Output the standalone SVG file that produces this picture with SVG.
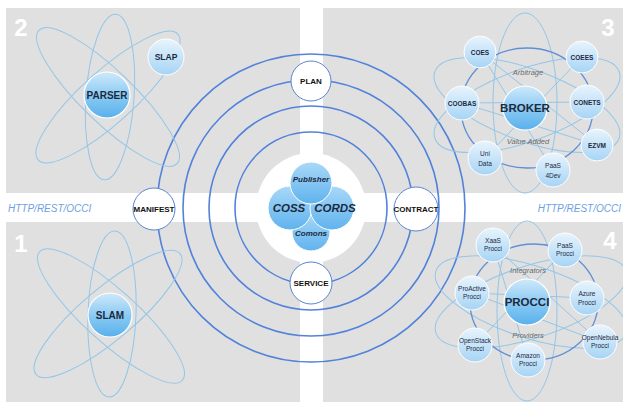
<svg xmlns="http://www.w3.org/2000/svg" width="623" height="402" viewBox="0 0 623 402">
<defs>
<linearGradient id="gBig" x1="0" y1="0" x2="0" y2="1">
<stop offset="0" stop-color="#cfe9fb"/><stop offset="0.5" stop-color="#8ccbf3"/><stop offset="1" stop-color="#58b0ec"/>
</linearGradient>
<linearGradient id="gSmall" x1="0" y1="0" x2="0" y2="1">
<stop offset="0" stop-color="#e8f4fd"/><stop offset="1" stop-color="#a6d4f5"/>
</linearGradient>
<linearGradient id="gCore" x1="0" y1="0" x2="0" y2="1">
<stop offset="0" stop-color="#a9d8f8"/><stop offset="1" stop-color="#5fb3ee"/>
</linearGradient>
<style>
.quad{fill:#e0e0e0}
.ring{fill:none;stroke:#5282da;stroke-width:1.6}
.orb{fill:none;stroke:#93c6e8;stroke-width:1}
.orbd{fill:none;stroke:#5f8fd6;stroke-width:1.3}
.big{fill:url(#gBig);stroke:#ffffff;stroke-width:1.2}
.small{fill:url(#gSmall);stroke:#ffffff;stroke-width:1}
.core{fill:url(#gCore);stroke:#ffffff;stroke-width:1}
.wnode{fill:#ffffff;stroke:#5b85d0;stroke-width:1}
text{font-family:"Liberation Sans",Arial,sans-serif;text-anchor:middle}
.t{font-weight:bold;fill:#1d2a3e}
.ts{font-size:6.5px;fill:#1d2a3e}
.tw{font-weight:bold;font-size:8px;fill:#111}
.tc{font-weight:bold;font-style:italic;fill:#1d2a3e}
.ti{font-style:italic;font-size:7.5px;fill:#6b6b6b}
.num{font-weight:bold;font-size:24px;fill:#ffffff}
.http{font-style:italic;font-size:10px;fill:#6e9fe3;text-anchor:start}
</style>
</defs>
<rect width="623" height="402" fill="#ffffff"/>
<g id="quadrants">
<rect class="quad" x="6" y="8" width="294" height="185"/>
<rect class="quad" x="323" y="8" width="300" height="185"/>
<rect class="quad" x="6" y="222" width="294" height="180"/>
<rect class="quad" x="323" y="222" width="300" height="180"/>
<circle cx="311" cy="208" r="55" fill="#ffffff"/>
</g>
<text class="num" x="21" y="36">2</text>
<text class="num" x="608" y="36">3</text>
<text class="num" x="21" y="252">1</text>
<text class="num" x="610" y="249">4</text>
<text class="http" x="8" y="212">HTTP/REST/OCCI</text>
<text class="http" x="621" y="212" style="text-anchor:end">HTTP/REST/OCCI</text>
<g id="connectors">
<circle class="ring" cx="311" cy="208" r="154"/>
<circle class="ring" cx="311" cy="208" r="128"/>
<circle class="ring" cx="311" cy="208" r="102"/>
<circle class="ring" cx="311" cy="208" r="76"/>
<!-- atom 2 -->
<ellipse class="orb" cx="108" cy="97" rx="96" ry="26" transform="rotate(44 108 97)"/>
<ellipse class="orb" cx="108" cy="97" rx="94" ry="26" transform="rotate(-42 108 97)"/>
<ellipse class="orb" cx="110" cy="97" rx="24" ry="83" transform="rotate(4 110 97)"/>
<!-- atom 1 -->
<ellipse class="orb" cx="111" cy="316" rx="96" ry="26" transform="rotate(42 111 316)"/>
<ellipse class="orb" cx="108" cy="314" rx="94" ry="26" transform="rotate(-40 108 314)"/>
<ellipse class="orb" cx="112" cy="314" rx="24" ry="83" transform="rotate(2 112 314)"/>
<!-- atom 3 -->
<ellipse class="orb" cx="525" cy="103" rx="32" ry="90"/>
<ellipse class="orb" cx="527" cy="105" rx="98" ry="36" transform="rotate(20 527 105)"/>
<ellipse class="orb" cx="527" cy="105" rx="98" ry="36" transform="rotate(-20 527 105)"/>
<line class="orb" x1="480" y1="52" x2="597" y2="145"/>
<line class="orb" x1="582" y1="57" x2="485" y2="158"/>
<line class="orb" x1="462" y1="103" x2="587" y2="102"/>
<line class="orb" x1="480" y1="52" x2="553" y2="170"/>
<line class="orb" x1="462" y1="103" x2="597" y2="145"/>
<ellipse class="orbd" cx="527" cy="108" rx="66" ry="60"/>
<!-- atom 4 -->
<ellipse class="orb" cx="527" cy="311" rx="30" ry="90"/>
<ellipse class="orb" cx="531" cy="302" rx="100" ry="36" transform="rotate(18 531 302)"/>
<ellipse class="orb" cx="531" cy="302" rx="100" ry="36" transform="rotate(-18 531 302)"/>
<line class="orb" x1="493" y1="245" x2="600" y2="342"/>
<line class="orb" x1="565" y1="250" x2="475" y2="345"/>
<line class="orb" x1="472" y1="293" x2="587" y2="298"/>
<line class="orb" x1="493" y1="245" x2="528" y2="360"/>
<line class="orb" x1="472" y1="293" x2="600" y2="342"/>
<ellipse class="orbd" cx="534" cy="302" rx="64" ry="58"/>
</g>
<g id="PLAN"><circle class="wnode" cx="311" cy="81" r="20"/><text class="tw" x="311" y="84">PLAN</text></g>
<g id="MANIFEST"><circle class="wnode" cx="154" cy="209" r="21"/><text class="tw" x="154" y="212">MANIFEST</text></g>
<g id="CONTRACT"><circle class="wnode" cx="416" cy="209" r="22"/><text class="tw" x="416" y="212">CONTRACT</text></g>
<g id="SERVICE"><circle class="wnode" cx="311" cy="283" r="21"/><text class="tw" x="311" y="286">SERVICE</text></g>
<g id="core">
<circle class="core" cx="311" cy="232" r="19"/>
<circle class="core" cx="290" cy="208" r="22"/>
<circle class="core" cx="332" cy="208" r="22"/>
<circle class="core" cx="311" cy="183" r="21"/>
<text class="tc" x="311" y="182" font-size="8">Publisher</text>
<text class="tc" x="289" y="212" font-size="11.5">COSS</text>
<text class="tc" x="335" y="212" font-size="11.5">CORDS</text>
<text class="tc" x="311" y="236" font-size="8">Comons</text>
</g>
<g id="PARSER"><circle class="big" cx="107" cy="95" r="23"/><text class="t" x="107" y="99" font-size="10">PARSER</text></g>
<g id="SLAP"><circle class="small" cx="166" cy="57" r="18"/><text class="t" x="166" y="60" font-size="8.5">SLAP</text></g>
<g id="SLAM"><circle class="big" cx="110" cy="315" r="22"/><text class="t" x="110" y="319" font-size="10">SLAM</text></g>
<g id="BROKER"><circle class="big" cx="525" cy="108" r="22"/><text class="t" x="525" y="112" font-size="11.5">BROKER</text></g>
<g id="COES"><circle class="small" cx="480" cy="52" r="16"/><text class="ts" x="480" y="55" font-weight="bold">COES</text></g>
<g id="COEES"><circle class="small" cx="582" cy="57" r="16"/><text class="ts" x="582" y="60" font-weight="bold">COEES</text></g>
<g id="COOBAS"><circle class="small" cx="462" cy="103" r="17"/><text class="ts" x="462" y="106" font-weight="bold">COOBAS</text></g>
<g id="CONETS"><circle class="small" cx="587" cy="102" r="17"/><text class="ts" x="587" y="105" font-weight="bold">CONETS</text></g>
<g id="EZVM"><circle class="small" cx="597" cy="145" r="16"/><text class="ts" x="597" y="148" font-weight="bold">EZVM</text></g>
<g id="UniData"><circle class="small" cx="485" cy="158" r="17"/><text class="ts" x="485" y="156" font-size="7">Uni</text><text class="ts" x="485" y="166" font-size="7">Data</text></g>
<g id="PaaS4Dev"><circle class="small" cx="553" cy="170" r="17"/><text class="ts" x="553" y="168" font-size="7">PaaS</text><text class="ts" x="553" y="178" font-size="7">4Dev</text></g>
<text class="ti" x="528" y="75">Arbitrage</text>
<text class="ti" x="528" y="144">Value Added</text>
<g id="PROCCI"><circle class="big" cx="527" cy="302" r="23"/><text class="t" x="527" y="306" font-size="11.5">PROCCI</text></g>
<g id="XaaSProcci"><circle class="small" cx="493" cy="245" r="17"/><text class="ts" x="493" y="243">XaaS</text><text class="ts" x="493" y="251">Procci</text></g>
<g id="PaaSProcci"><circle class="small" cx="565" cy="250" r="17"/><text class="ts" x="565" y="248">PaaS</text><text class="ts" x="565" y="256">Procci</text></g>
<g id="ProActiveProcci"><circle class="small" cx="472" cy="293" r="17"/><text class="ts" x="472" y="291">ProActive</text><text class="ts" x="472" y="299">Procci</text></g>
<g id="AzureProcci"><circle class="small" cx="587" cy="298" r="17"/><text class="ts" x="587" y="296" font-size="7.5">Azure</text><text class="ts" x="587" y="305" font-size="7.5">Procci</text></g>
<g id="OpenStackProcci"><circle class="small" cx="475" cy="345" r="17"/><text class="ts" x="475" y="343">OpenStack</text><text class="ts" x="475" y="351">Procci</text></g>
<g id="OpenNebulaProcci"><circle class="small" cx="600" cy="342" r="17"/><text class="ts" x="600" y="340">OpenNebula</text><text class="ts" x="600" y="348">Procci</text></g>
<g id="AmazonProcci"><circle class="small" cx="528" cy="360" r="17"/><text class="ts" x="528" y="358">Amazon</text><text class="ts" x="528" y="366">Procci</text></g>
<text class="ti" x="528" y="273">Integrators</text>
<text class="ti" x="528" y="338">Providers</text>
</svg>
